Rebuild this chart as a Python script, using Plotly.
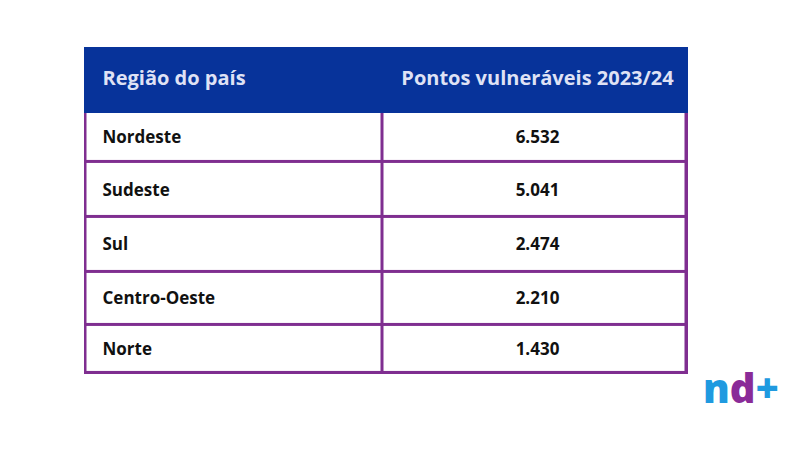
import plotly.graph_objects as go

# dados da tabela
regioes = ["Nordeste", "Sudeste", "Sul", "Centro-Oeste", "Norte"]
pontos = ["6.532", "5.041", "2.474", "2.210", "1.430"]
cabecalho = ["Região do país", "Pontos vulneráveis 2023/24"]

W, H = 800, 467
azul = "#07339a"
roxo = "#7f2e90"
fonte = "Open Sans"

# grade da tabela (em px, a partir do canto superior esquerdo da tabela)
L, T = 84, 47
col_edges = [0, 297, 601]
row_edges = [65, 115, 170, 225, 278, 326]
head_edges = [0, 66.5]
xr = [-1.5, 602.5]
yr = [327.5, 0]
pad = 17

fig = go.Figure()

# corpo: células brancas, as linhas roxas são os vãos entre elas
fig.add_trace(go.Heatmap(
    x=col_edges, y=row_edges,
    z=[[0] * len(cabecalho) for _ in regioes],
    zmin=0, zmax=1, colorscale=[[0, "white"], [1, "white"]],
    showscale=False, xgap=3, ygap=3, hoverinfo="skip",
))
# cabeçalho azul
fig.add_trace(go.Heatmap(
    x=xr, y=head_edges, z=[[0]],
    zmin=0, zmax=1, colorscale=[[0, azul], [1, azul]],
    showscale=False, hoverinfo="skip",
))

row_mid = [(a + b) / 2 + 2 for a, b in zip(row_edges[:-1], row_edges[1:])]
head_mid = (head_edges[0] + 65) / 2 + 1
col2_mid = (col_edges[1] + col_edges[2]) / 2 + 3

fig.add_trace(go.Scatter(
    x=[pad] * len(regioes), y=row_mid, text=regioes, mode="text",
    textposition="middle right", hoverinfo="skip",
    textfont=dict(family=fonte, size=17, color="#111111", weight="bold"),
))
fig.add_trace(go.Scatter(
    x=[col2_mid] * len(pontos), y=row_mid, text=pontos, mode="text",
    textposition="middle center", hoverinfo="skip",
    textfont=dict(family=fonte, size=17, color="#111111", weight="bold"),
))
fig.add_trace(go.Scatter(
    x=[pad, col2_mid], y=[head_mid, head_mid], text=cabecalho, mode="text",
    textposition=["middle right", "middle center"], hoverinfo="skip",
    textfont=dict(family=fonte, size=20, color="#dfe2f5", weight="bold"),
))

# logo nd+
pw = xr[1] - xr[0]
ph = yr[0] - yr[1]
fig.add_annotation(
    x=(741 - L) / pw, y=1 - (388 - T) / ph, xref="paper", yref="paper",
    text="<span style='color:#1f9ae0'>n</span><span style='color:#8a2b98'>d</span>"
         "<span style='color:#1f9ae0'>+</span>",
    showarrow=False,
    font=dict(family=fonte, size=40, weight=800),
    xanchor="center", yanchor="middle",
)

fig.update_xaxes(range=xr, visible=False, fixedrange=True)
fig.update_yaxes(range=yr, visible=False, fixedrange=True)
fig.update_layout(
    width=W, height=H,
    margin=dict(l=L, r=W - L - pw, t=T, b=H - T - ph),
    paper_bgcolor="white",
    plot_bgcolor=roxo,
    showlegend=False,
)
fig.write_html("out.html", config={"displayModeBar": False},
               post_script="document.body.style.margin='0';")
